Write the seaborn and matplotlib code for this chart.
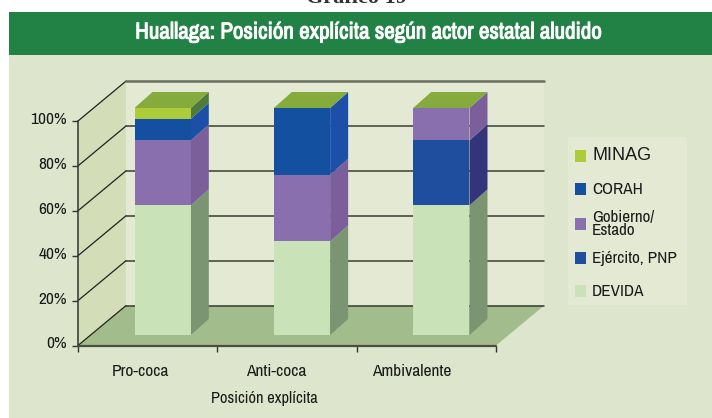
import numpy as np
import seaborn as sns
import matplotlib
matplotlib.use("Agg")
import matplotlib.pyplot as plt
import matplotlib.patheffects as pe
from matplotlib.patches import Polygon, Rectangle
from matplotlib.transforms import ScaledTranslation

W, H = 712, 418

categories = ['Pro-coca', 'Anti-coca', 'Ambivalente']
yticks = [0, 20, 40, 60, 80, 100]
ytick_labels = ['0%', '20%', '40%', '60%', '80%', '100%']
series_names = ['DEVIDA', 'Ejército, PNP', 'Gobierno/\nEstado', 'CORAH', 'MINAG']
devida = [57.1, 41.2, 57.1]
ejercito = [0, 0, 28.6]
gobierno = [28.6, 29.4, 14.3]
corah = [9.5, 29.4, 0]
minag = [4.8, 0, 0]
series_values = [devida, ejercito, gobierno, corah, minag]

front_colors = ['#C9E2B8', '#1F4E9F', '#8A6FAE', '#1350A0', '#ADCC3A']
side_colors = ['#7B9472', '#34347A', '#7A5F9A', '#1C50A8', '#4E7A3E']
top_color = '#85AB3D'
bg_color = '#DEE5CD'
wall_color = '#E4E9D3'
side_wall_color = '#D3DDB8'
floor_color = '#A3BC8C'
header_color = '#228145'
text_color = '#1A1A1A'
narrow_fonts = ['Archivo Narrow', 'Roboto Condensed', 'Liberation Sans']


def px_rect(x0, y0, x1, y1):
    # pixel box (y from the top) to figure fractions
    return [x0 / W, 1 - y1 / H, (x1 - x0) / W, (y1 - y0) / H]


def fig_rect(x0, y0, x1, y1, color, zorder=-5):
    l, b, w, h = px_rect(x0, y0, x1, y1)
    fig.add_artist(Rectangle((l, b), w, h, transform=fig.transFigure, color=color, lw=0, zorder=zorder))


sns.set_style("white")
plt.rcParams['font.family'] = narrow_fonts
plt.rcParams['font.size'] = 12

fig = plt.figure(figsize=(W / 100, H / 100), dpi=100, facecolor='white')
fig_rect(9, 12, W, H, bg_color)
fig_rect(9, 12, W, 55, header_color)
fig_rect(568, 137, 687, 305, wall_color)

fig.text(356 / W, 1 - 3 / H, 'Gráfico 19', family='Liberation Serif', fontsize=16, fontweight='bold',
         color='#333333', ha='center', va='baseline')
# the narrow font has no bold cut here, so thicken it with a stroke
fig.text(368 / W, 1 - 32 / H, 'Huallaga: Posición explícita según actor estatal aludido', color='white',
         fontsize=16.6, ha='center', va='center',
         path_effects=[pe.withStroke(linewidth=0.7, foreground='white')])

# axis plane, with the chart walls drawn behind it
ax = fig.add_axes(px_rect(78, 121, 496, 345.5))
ax.set_xlim(-0.5, 2.5)
ax.set_ylim(0, 100)
ax.patch.set_alpha(0)
for s in ax.spines.values():
    s.set_visible(False)

dx, dy = 0.345, 17.8
x0, x1 = -0.5, 2.5
ax.add_patch(Polygon([(x0, 0), (x0 + dx, dy), (x0 + dx, 100 + dy), (x0, 100)], color=side_wall_color, lw=0, clip_on=False, zorder=1))
ax.add_patch(Polygon([(x0 + dx, dy), (x1 + dx, dy), (x1 + dx, 100 + dy), (x0 + dx, 100 + dy)], color=wall_color, lw=0, clip_on=False, zorder=1))
ax.add_patch(Polygon([(x0, 0), (x1, 0), (x1 + dx, dy), (x0 + dx, dy)], color=floor_color, lw=0, clip_on=False, zorder=1))
for t in yticks:
    ax.plot([x0, x0 + dx], [t, t + dy], color='#222222', lw=0.9, clip_on=False, zorder=2)
    ax.plot([x0 + dx, x1 + dx], [t + dy, t + dy], color='#6B6F5F' if t == 100 else '#3A3D33',
            lw=1.8 if t == 100 else 1.1, clip_on=False, zorder=2)
ax.plot([x0, x0], [0, 100], color='#333333', lw=1.1, clip_on=False, zorder=3)
ax.plot([x0, x1], [0, 0], color='#4A4D42', lw=1.6, clip_on=False, zorder=3)

ax.set_yticks(yticks)
ax.set_yticklabels(ytick_labels, color=text_color, fontsize=12.5)
ax.set_xticks([-0.5, 0.5, 1.5, 2.5])
ax.set_xticklabels([])
ax.tick_params(axis='both', direction='out', length=4, width=1, color='#333333', left=True, bottom=True, pad=4)
for lab in ax.get_yticklabels():
    lab.set_transform(lab.get_transform() + ScaledTranslation(0, 3 / 100, fig.dpi_scale_trans))
for i, c in enumerate(categories):
    ax.text(i - 0.055 - 0.025 * i, -11.5, c, ha='center', va='center', color=text_color, fontsize=12.5, clip_on=False)
ax.text(0.835, -23.5, 'Posición explícita', ha='center', va='center', color=text_color, fontsize=11.8, clip_on=False)

# bars stand a little in front of the back wall
ax_bars = fig.add_axes(px_rect(93, 108, 511, 335))
ax_bars.patch.set_alpha(0)
bottoms = np.zeros(len(categories))
faces = []
for name, vals, fc, sc in zip(series_names, series_values, front_colors, side_colors):
    n_before = len(ax_bars.patches)
    sns.barplot(x=categories, y=vals, bottom=bottoms, color=fc, saturation=1, width=0.404,
                order=categories, ax=ax_bars, linewidth=0, zorder=3)
    faces.append((ax_bars.patches[n_before:], sc))
    bottoms = bottoms + np.array(vals)

ax_bars.set_xlim(-0.5, 2.5)
ax_bars.set_ylim(0, 100)
ax_bars.set_axis_off()

# side and top faces follow each drawn bar
bar_dx, bar_dy = 18 / 139.3, 16 / 2.27
for bars, sc in faces:
    for b in bars:
        if b.get_height() <= 0:
            continue
        xr = b.get_x() + b.get_width()
        y0, y1 = b.get_y(), b.get_y() + b.get_height()
        ax_bars.add_patch(Polygon([(xr, y0), (xr + bar_dx, y0 + bar_dy), (xr + bar_dx, y1 + bar_dy), (xr, y1)],
                                  color=sc, lw=0, clip_on=False, zorder=2))
for i, total in enumerate(bottoms):
    bar = faces[0][0][i]
    xl, xr = bar.get_x(), bar.get_x() + bar.get_width()
    ax_bars.add_patch(Polygon([(xl, total), (xr, total), (xr + bar_dx, total + bar_dy), (xl + bar_dx, total + bar_dy)],
                              color=top_color, lw=0, clip_on=False, zorder=2))

# legend rows by hand, the two-line label would stretch a real legend
row_y = [291, 258, 224, 189, 156]
for name, fc, y in zip(series_names, front_colors, row_y):
    fig_rect(575, y - 6, 586, y + 6, fc, zorder=5)
    is_minag = name == 'MINAG'
    fig.text(592 / W, 1 - y / H, name, ha='left', va='center', color=text_color, linespacing=0.8,
             fontsize=13 if is_minag else 12.3, family='Liberation Sans' if is_minag else narrow_fonts)

fig.savefig('out.png', dpi=100)
